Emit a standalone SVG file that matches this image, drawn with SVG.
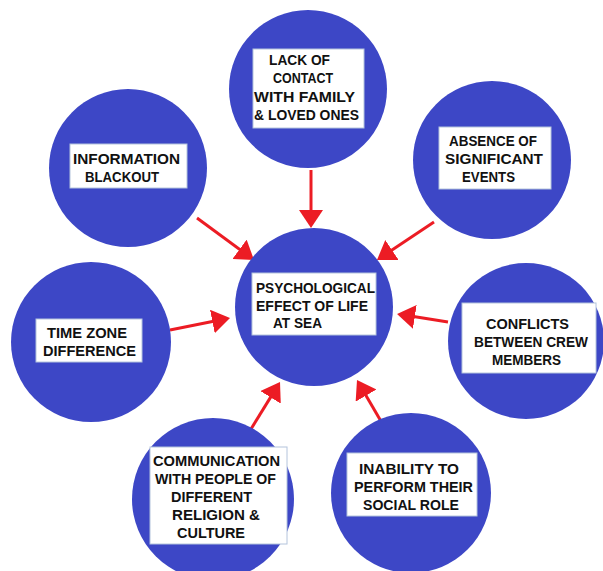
<svg xmlns="http://www.w3.org/2000/svg" width="603" height="571" viewBox="0 0 603 571">
<style>
.c{fill:#3d47c6}
.b{fill:#fff;stroke:#b4c4dc;stroke-width:1}
.t{font-family:"Liberation Sans",Arial,sans-serif;font-weight:bold;font-size:15px;fill:#111}
.a{stroke:#ec1c24;stroke-width:3;fill:none;marker-end:url(#h)}
</style>
<defs>
<marker id="h" markerUnits="userSpaceOnUse" markerWidth="18" markerHeight="24" refX="14" refY="12" orient="auto">
<path d="M0,0 L18,12 L0,24 z" fill="#ec1c24"/>
</marker>
</defs>
<rect width="603" height="571" fill="#fff"/>
<g id="connectors">
<line class="a" x1="311" y1="170" x2="311" y2="224"/>
<line class="a" x1="197" y1="218" x2="250.8" y2="257.6"/>
<line class="a" x1="434" y1="222" x2="380.3" y2="257.8"/>
<line class="a" x1="170" y1="330" x2="226.1" y2="318.8"/>
<line class="a" x1="448" y1="322" x2="401" y2="314.6"/>
<line class="a" x1="251" y1="429" x2="277.9" y2="385.4"/>
<line class="a" x1="382" y1="423" x2="359" y2="383.5"/>
</g>
<g id="lack-of-contact">
<circle class="c" cx="308" cy="89" r="79"/>
<rect class="b" x="253" y="49" width="111" height="79"/>
<text class="t"><tspan x="269" y="65" textLength="61" lengthAdjust="spacingAndGlyphs">LACK OF</tspan><tspan x="273" y="83" textLength="60" lengthAdjust="spacingAndGlyphs">CONTACT</tspan><tspan x="254" y="102" textLength="101" lengthAdjust="spacingAndGlyphs">WITH FAMILY</tspan><tspan x="254" y="120" textLength="105" lengthAdjust="spacingAndGlyphs">&amp; LOVED ONES</tspan></text>
</g>
<g id="information-blackout">
<circle class="c" cx="128" cy="168" r="79"/>
<rect class="b" x="70" y="144" width="117" height="44"/>
<text class="t"><tspan x="73" y="164" textLength="107" lengthAdjust="spacingAndGlyphs">INFORMATION</tspan><tspan x="85" y="182" textLength="74" lengthAdjust="spacingAndGlyphs">BLACKOUT</tspan></text>
</g>
<g id="absence-of-events">
<circle class="c" cx="492" cy="160" r="79"/>
<rect class="b" x="439" y="127" width="112" height="62"/>
<text class="t"><tspan x="449" y="146" textLength="88" lengthAdjust="spacingAndGlyphs">ABSENCE OF</tspan><tspan x="445" y="164" textLength="98" lengthAdjust="spacingAndGlyphs">SIGNIFICANT</tspan><tspan x="462" y="182" textLength="53" lengthAdjust="spacingAndGlyphs">EVENTS</tspan></text>
</g>
<g id="time-zone">
<circle class="c" cx="91" cy="342" r="80"/>
<rect class="b" x="36" y="319" width="106" height="43"/>
<text class="t"><tspan x="47" y="338" textLength="80" lengthAdjust="spacingAndGlyphs">TIME ZONE</tspan><tspan x="43" y="356" textLength="93" lengthAdjust="spacingAndGlyphs">DIFFERENCE</tspan></text>
</g>
<g id="psychological-effect">
<circle class="c" cx="314" cy="307" r="79"/>
<rect class="b" x="252" y="273" width="124" height="62"/>
<text class="t"><tspan x="256" y="293" textLength="119" lengthAdjust="spacingAndGlyphs">PSYCHOLOGICAL</tspan><tspan x="256" y="311" textLength="112" lengthAdjust="spacingAndGlyphs">EFFECT OF LIFE</tspan><tspan x="273" y="328" textLength="49" lengthAdjust="spacingAndGlyphs">AT SEA</tspan></text>
</g>
<g id="conflicts">
<circle class="c" cx="526" cy="341" r="78"/>
<rect class="b" x="462" y="303" width="134" height="70"/>
<text class="t"><tspan x="486" y="329" textLength="83" lengthAdjust="spacingAndGlyphs">CONFLICTS</tspan><tspan x="474" y="347" textLength="114" lengthAdjust="spacingAndGlyphs">BETWEEN CREW</tspan><tspan x="492" y="365" textLength="69" lengthAdjust="spacingAndGlyphs">MEMBERS</tspan></text>
</g>
<g id="communication">
<circle class="c" cx="213" cy="499" r="81"/>
<rect class="b" x="150" y="447" width="137" height="97"/>
<text class="t"><tspan x="153" y="466" textLength="127" lengthAdjust="spacingAndGlyphs">COMMUNICATION</tspan><tspan x="155" y="484" textLength="121" lengthAdjust="spacingAndGlyphs">WITH PEOPLE OF</tspan><tspan x="171" y="502" textLength="81" lengthAdjust="spacingAndGlyphs">DIFFERENT</tspan><tspan x="172" y="520" textLength="88" lengthAdjust="spacingAndGlyphs">RELIGION &amp;</tspan><tspan x="177" y="538" textLength="68" lengthAdjust="spacingAndGlyphs">CULTURE</tspan></text>
</g>
<g id="inability">
<circle class="c" cx="411" cy="493" r="80"/>
<rect class="b" x="347" y="453" width="130" height="63"/>
<text class="t"><tspan x="359" y="474" textLength="100" lengthAdjust="spacingAndGlyphs">INABILITY TO</tspan><tspan x="354" y="492" textLength="119" lengthAdjust="spacingAndGlyphs">PERFORM THEIR</tspan><tspan x="363" y="510" textLength="96" lengthAdjust="spacingAndGlyphs">SOCIAL ROLE</tspan></text>
</g>
</svg>
